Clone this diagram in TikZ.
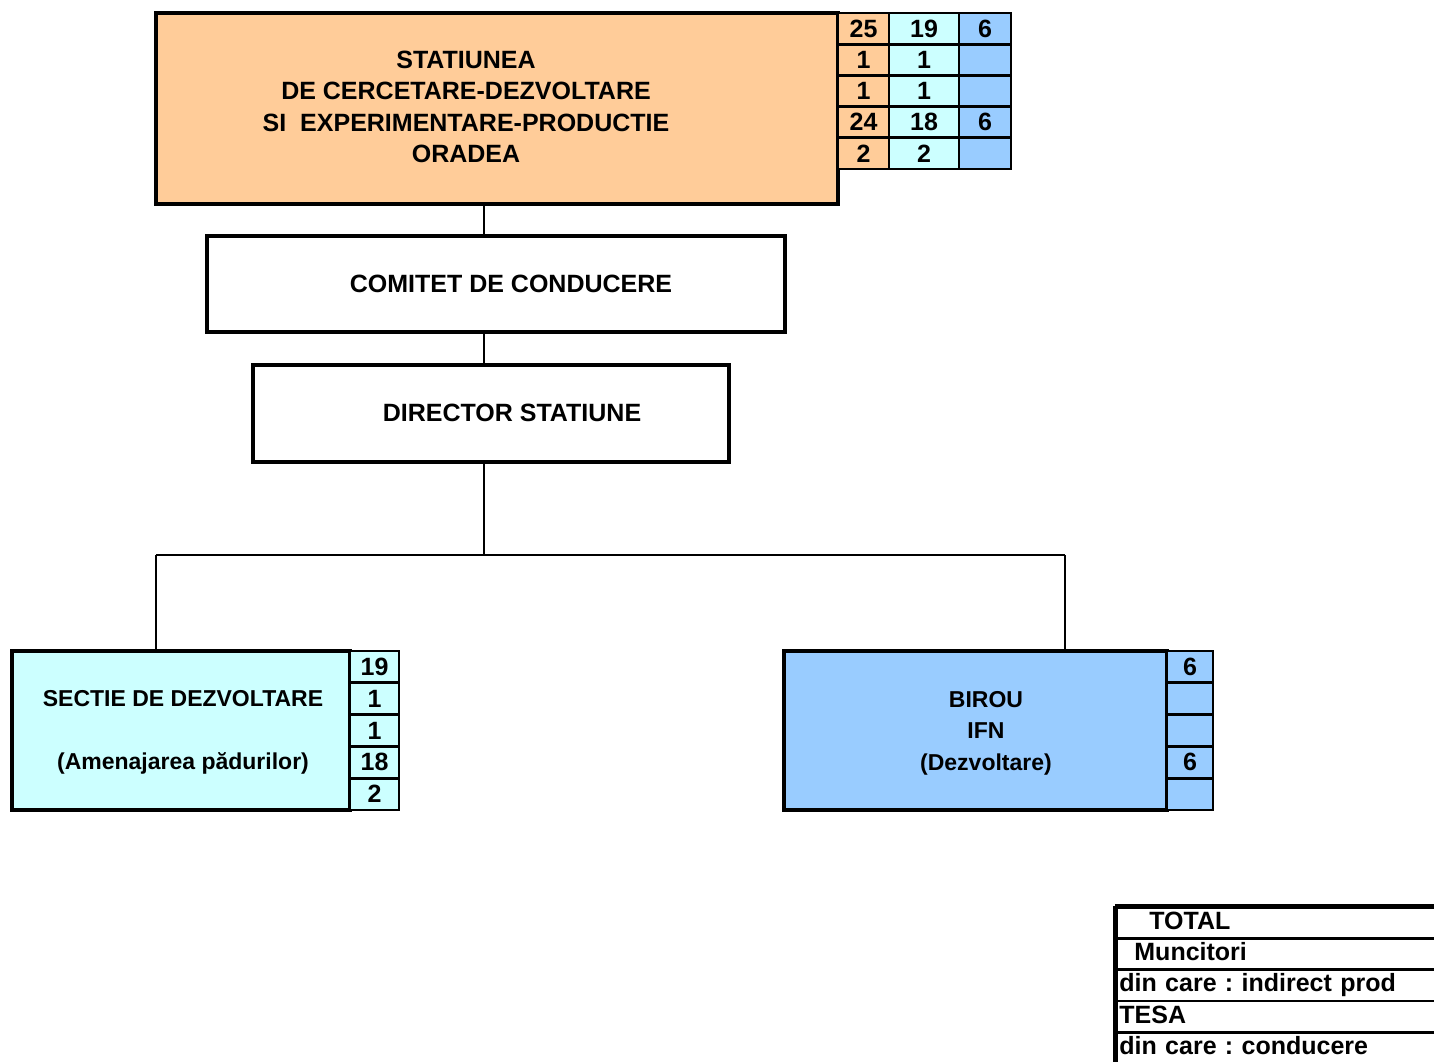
\documentclass[tikz,border=0pt]{standalone}
\usepackage{fontspec}
\setmainfont{Liberation Sans}
\frenchspacing
\definecolor{portocaliu}{HTML}{FFCC99}
\definecolor{turcoaz}{HTML}{CCFFFF}
\definecolor{albastru}{HTML}{99CCFF}

\begin{document}
\begin{tikzpicture}[x=1pt,y=-1pt,line width=2pt]
        \tikzstyle{box}=[draw,line width=3.5pt,align=center,inner sep=0pt,
                         font=\fontsize{25}{31.5}\selectfont\bfseries]
        \tikzstyle{small}=[font=\fontsize{23}{31.5}\selectfont\bfseries]
        \tikzstyle{cell}=[draw,line width=2.8pt,inner sep=0pt,
                         font=\fontsize{25}{30}\selectfont\bfseries]
        \useasboundingbox (0,0) rectangle (1434,1061);

        % casete
        \node[box,fill=portocaliu,minimum width=682pt,minimum height=191pt] (statiune) at (497,108.5) {};
        \node[box,minimum width=578pt,minimum height=96pt] (comitet) at (496,284) {};
        \node[box,minimum width=476pt,minimum height=97pt] (director) at (491,413.5) {};
        \node[box,fill=turcoaz,minimum width=338pt,minimum height=159pt] (sectie) at (181,730.5) {};
        \node[box,fill=albastru,minimum width=383pt,minimum height=159pt] (birou) at (975.5,730.5) {};

        % texte
        \node[box,draw=none] (statiune-t) at (466,107) {STATIUNEA\\DE CERCETARE-DEZVOLTARE\\SI\ \ EXPERIMENTARE-PRODUCTIE\\ORADEA};
        \node[box,draw=none] (comitet-t) at (511,284) {COMITET DE CONDUCERE};
        \node[box,draw=none] (director-t) at (512,413) {DIRECTOR STATIUNE};
        \node[box,small,draw=none] (sectie-t) at (183,732.5) {SECTIE DE DEZVOLTARE\\[31.5pt](Amenajarea pădurilor)};
        \node[box,small,draw=none] (birou-t) at (986,733) {BIROU\\IFN\\(Dezvoltare)};

        % tabele
        \foreach \r/\a/\b/\c in {0/25/19/6, 1/1/1/{}, 2/1/1/{}, 3/24/18/6, 4/2/2/{}}
          { \node[cell,fill=portocaliu,minimum width=51pt,minimum height=31.2pt] (T-\r-a) at (863.5,{28.6+31.2*\r}) {\a};
            \node[cell,fill=turcoaz,minimum width=70pt,minimum height=31.2pt] (T-\r-b) at (924,{28.6+31.2*\r}) {\b};
            \node[cell,fill=albastru,minimum width=52pt,minimum height=31.2pt] (T-\r-c) at (985,{28.6+31.2*\r}) {\c}; }

        \foreach \r/\a/\c in {0/19/6, 1/1/{}, 2/1/{}, 3/18/6, 4/2/{}}
          { \node[cell,fill=turcoaz,minimum width=49pt,minimum height=31.8pt] (S-\r) at (374.5,{666.9+31.8*\r}) {\a};
            \node[cell,fill=albastru,minimum width=46pt,minimum height=31.8pt] (B-\r) at (1190,{666.9+31.8*\r}) {\c}; }

        % legenda
        \foreach \r/\txt/\ind in {0/TOTAL/33, 1/Muncitori/18, 2/din care : indirect prod/3,
                                  3/TESA/3, 4/din care : conducere/3}
          \node[cell,anchor=north west,minimum height=31.2pt,text width=330pt,align=left,
                text height=18pt,text depth=5pt] (L-\r) at (1115,{906+31.2*\r}) {\hspace*{\ind pt}\txt};
        \draw[line width=3.5pt] (L-0.north west) -- (L-0.north east);
        \draw[line width=3.5pt] (L-0.north west) -- (L-4.south west);

        % legaturi
        \coordinate (spine) at (484,555);
        \coordinate (jl) at (156,555);
        \coordinate (jr) at (1065,555);
        \draw (statiune.south -| spine) -- (comitet.north -| spine);
        \draw (comitet.south -| spine) -- (director.north -| spine);
        \draw (director.south -| spine) -- (spine);
        \draw (jl) -- (jr);
        \draw (jl) -- (sectie.north -| jl);
        \draw (jr) -- (birou.north -| jr);
      \end{tikzpicture}
\end{document}
